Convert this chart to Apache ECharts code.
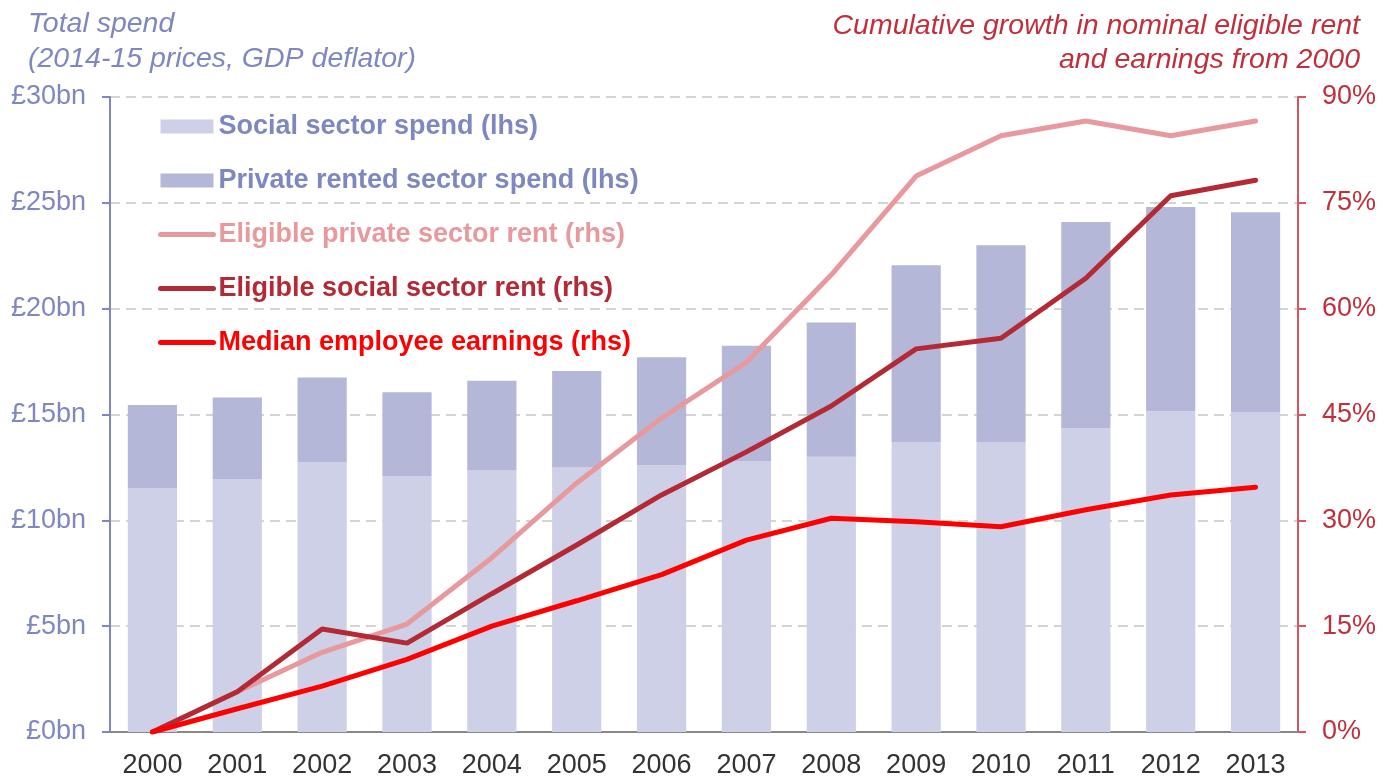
<!DOCTYPE html>
<html>
<head>
<meta charset="utf-8">
<script src="https://cdn.jsdelivr.net/npm/echarts@6/dist/echarts.min.js"></script>
<style>
  html, body { margin: 0; padding: 0; background: #fff; }
  #chart { width: 1392px; height: 777px; }
</style>
</head>
<body>
<div id="chart"></div>
<script>
const years = ['2000', '2001', '2002', '2003', '2004', '2005', '2006', '2007', '2008', '2009', '2010', '2011', '2012', '2013']
// £bn, 2014-15 prices
const socialSpend = [11.5, 11.95, 12.75, 12.1, 12.35, 12.5, 12.6, 12.8, 13.0, 13.7, 13.7, 14.35, 15.15, 15.1]
const privateSpend = [3.95, 3.85, 4.0, 3.95, 4.25, 4.55, 5.1, 5.45, 6.35, 8.35, 9.3, 9.75, 9.65, 9.45]
// cumulative growth, %
const privateRent = [0, 5.7, 11.3, 15.3, 24.7, 35.3, 44.5, 52.4, 64.8, 78.8, 84.5, 86.6, 84.5, 86.6]
const socialRent = [0, 5.7, 14.6, 12.6, 19.6, 26.5, 33.6, 39.7, 46.2, 54.3, 55.8, 64.3, 76.0, 78.2]
const earnings = [0, 3.3, 6.5, 10.3, 15.0, 18.6, 22.3, 27.2, 30.3, 29.8, 29.1, 31.5, 33.6, 34.7]
const leftTicks = ['£0bn', '£5bn', '£10bn', '£15bn', '£20bn', '£25bn', '£30bn']

const font = '"Liberation Sans", Arial, sans-serif'
const titleFont = 'italic 28.5px "Liberation Sans", Arial, sans-serif'
const blue = '#7f87c0'
const red = '#c0303c'
const noDot = { opacity: 0 }
const thick = { width: 5, cap: 'round' }

const chart = echarts.init(document.getElementById('chart'))
chart.setOption({
  animation: false,
  textStyle: { fontFamily: font },
  grid: { left: 110, right: 94, top: 97, bottom: 45, outerBoundsMode: 'none', containLabel: false },
  graphic: [
    { type: 'text', left: 28, top: 7,
      style: { text: 'Total spend\n(2014-15 prices, GDP deflator)', fill: blue, lineHeight: 35, font: titleFont } },
    { type: 'text', right: 32, top: 12,
      style: { text: 'Cumulative growth in nominal eligible rent', fill: red, font: titleFont } },
    { type: 'text', right: 32, top: 46,
      style: { text: 'and earnings from 2000', fill: red, font: titleFont } }
  ],
  legend: {
    orient: 'vertical', left: 153, top: 108, itemGap: 27, itemWidth: 53, itemHeight: 14,
    textStyle: { fontSize: 27, fontWeight: 'bold', fontFamily: font },
    data: [
      { name: 'Social sector spend (lhs)', icon: 'rect', textStyle: { color: blue } },
      { name: 'Private rented sector spend (lhs)', icon: 'rect', textStyle: { color: blue } },
      { name: 'Eligible private sector rent (rhs)', itemStyle: noDot, lineStyle: thick, textStyle: { color: '#e8999e' } },
      { name: 'Eligible social sector rent (rhs)', itemStyle: noDot, lineStyle: thick, textStyle: { color: '#b32a35' } },
      { name: 'Median employee earnings (rhs)', itemStyle: noDot, lineStyle: thick, textStyle: { color: '#ff0000' } }
    ]
  },
  xAxis: {
    type: 'category', data: years,
    axisLine: { lineStyle: { color: '#888', width: 2 } },
    axisTick: { show: false },
    axisLabel: { color: '#333', fontSize: 27, margin: 20 }
  },
  yAxis: [
    {
      type: 'value', min: 0, max: 30, interval: 5,
      axisLine: { show: true, lineStyle: { color: blue, width: 2 } },
      axisTick: { show: true, length: 8, lineStyle: { color: blue, width: 2 } },
      axisLabel: { color: blue, fontSize: 27, margin: 24, formatter: (v) => leftTicks[v / 5] },
      splitLine: { lineStyle: { color: '#d4d4d4', type: [10, 6], width: 2 } }
    },
    {
      type: 'value', min: 0, max: 90, interval: 15, position: 'right',
      axisLine: { show: true, lineStyle: { color: '#d9545f', width: 2 } },
      axisTick: { show: true, length: 8, lineStyle: { color: '#d9545f', width: 2 } },
      axisLabel: { color: red, fontSize: 27, margin: 24, formatter: '{value}%' },
      splitLine: { show: false }
    }
  ],
  series: [
    { name: 'Social sector spend (lhs)', type: 'bar', stack: 'spend', data: socialSpend,
      barCategoryGap: '42%', itemStyle: { color: '#cdd0e6' } },
    { name: 'Private rented sector spend (lhs)', type: 'bar', stack: 'spend', data: privateSpend,
      itemStyle: { color: '#b4b7d8' } },
    { name: 'Eligible private sector rent (rhs)', type: 'line', yAxisIndex: 1, data: privateRent,
      symbol: 'none', lineStyle: { color: '#e8999e', width: 5, cap: 'round' }, itemStyle: { color: '#e8999e' } },
    { name: 'Eligible social sector rent (rhs)', type: 'line', yAxisIndex: 1, data: socialRent,
      symbol: 'none', lineStyle: { color: '#b32a35', width: 5, cap: 'round' }, itemStyle: { color: '#b32a35' } },
    { name: 'Median employee earnings (rhs)', type: 'line', yAxisIndex: 1, data: earnings,
      symbol: 'none', lineStyle: { color: '#ff0000', width: 5, cap: 'round' }, itemStyle: { color: '#ff0000' } }
  ]
})
</script>
</body>
</html>
